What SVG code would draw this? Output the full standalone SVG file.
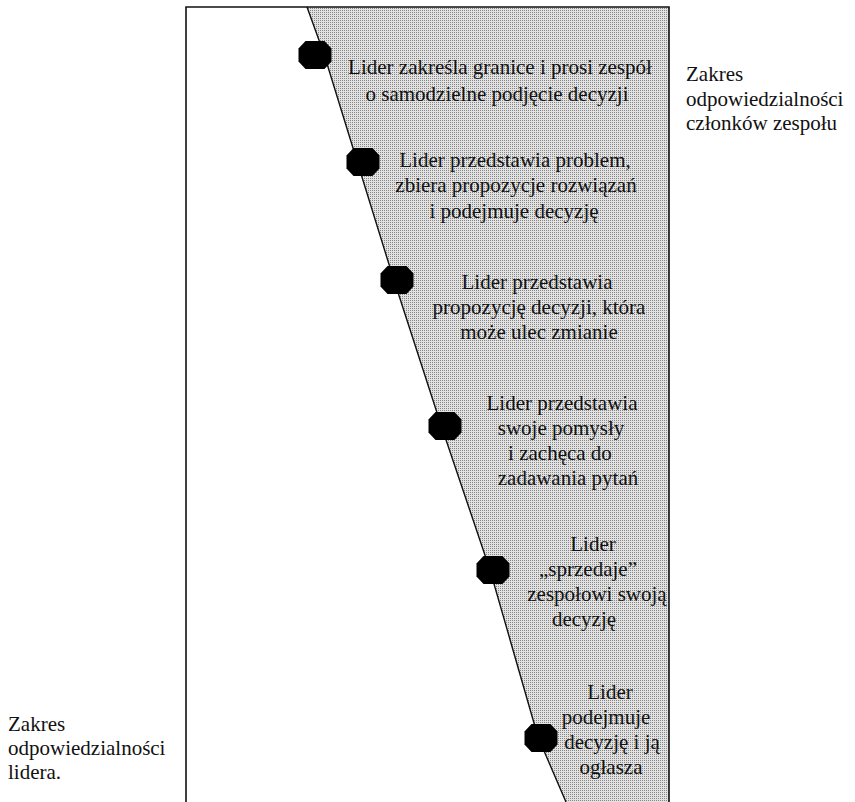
<svg xmlns="http://www.w3.org/2000/svg" width="855" height="802" viewBox="0 0 855 802">
<defs>
<pattern id="dots" width="2" height="2" patternUnits="userSpaceOnUse">
<rect width="2" height="2" fill="#e2e2e2"/>
<rect width="1" height="1" fill="#858585"/>
</pattern>
<polygon id="oct" points="-16.5,-6.5 -9.5,-14 9.5,-14 16.5,-6.5 16.5,6.5 9.5,14 -9.5,14 -16.5,6.5"/>
</defs>
<style>
text{font-family:"Liberation Serif","Times New Roman",serif;font-size:21px;fill:#111}
.c{text-anchor:middle}
.frame{fill:none;stroke:#111;stroke-width:1.6}
.edge{fill:none;stroke:#111;stroke-width:1.4}
.oct{fill:#000}
</style>
<rect width="855" height="802" fill="#fff"/>
<g id="area">
<polygon fill="url(#dots)" points="307,7 324,54 357,161 392,274 441,425 490,570 538,737 566,802 669,802 669,7"/>
<polyline class="frame" points="186,802 186,7 669,7 669,802"/>
</g>
<g id="connectors">
<polyline class="edge" points="307,7 324,54 357,161 392,274 441,425 490,570 538,737 566,802"/>
</g>
<g id="node1">
<use href="#oct" class="oct" x="315" y="55"/>
<text class="c" x="500" y="74">Lider zakreśla granice i prosi zespół</text>
<text class="c" x="497" y="101">o samodzielne podjęcie decyzji</text>
</g>
<g id="node2">
<use href="#oct" class="oct" x="363" y="162"/>
<text class="c" x="515" y="167">Lider przedstawia problem,</text>
<text class="c" x="516" y="192">zbiera propozycje rozwiązań</text>
<text class="c" x="514" y="218">i podejmuje decyzję</text>
</g>
<g id="node3">
<use href="#oct" class="oct" x="397" y="280"/>
<text class="c" x="537" y="289">Lider przedstawia</text>
<text class="c" x="539" y="314">propozycję decyzji, która</text>
<text class="c" x="539" y="339">może ulec zmianie</text>
</g>
<g id="node4">
<use href="#oct" class="oct" x="445" y="426"/>
<text class="c" x="562" y="410">Lider przedstawia</text>
<text class="c" x="561" y="435">swoje pomysły</text>
<text class="c" x="560" y="460">i zachęca do</text>
<text class="c" x="568" y="485">zadawania pytań</text>
</g>
<g id="node5">
<use href="#oct" class="oct" x="493" y="570"/>
<text class="c" x="593" y="551">Lider</text>
<text class="c" x="588" y="576">„sprzedaje”</text>
<text class="c" x="597" y="601">zespołowi swoją</text>
<text class="c" x="584" y="626">decyzję</text>
</g>
<g id="node6">
<use href="#oct" class="oct" x="541" y="738"/>
<text class="c" x="610" y="699">Lider</text>
<text class="c" x="606" y="724">podejmuje</text>
<text class="c" x="612" y="749">decyzję i ją</text>
<text class="c" x="611" y="774">ogłasza</text>
</g>
<g id="label-team">
<text x="686" y="81">Zakres</text>
<text x="686" y="106">odpowiedzialności</text>
<text x="686" y="130">członków zespołu</text>
</g>
<g id="label-leader">
<text x="8" y="731">Zakres</text>
<text x="8" y="755">odpowiedzialności</text>
<text x="8" y="779">lidera.</text>
</g>
</svg>
